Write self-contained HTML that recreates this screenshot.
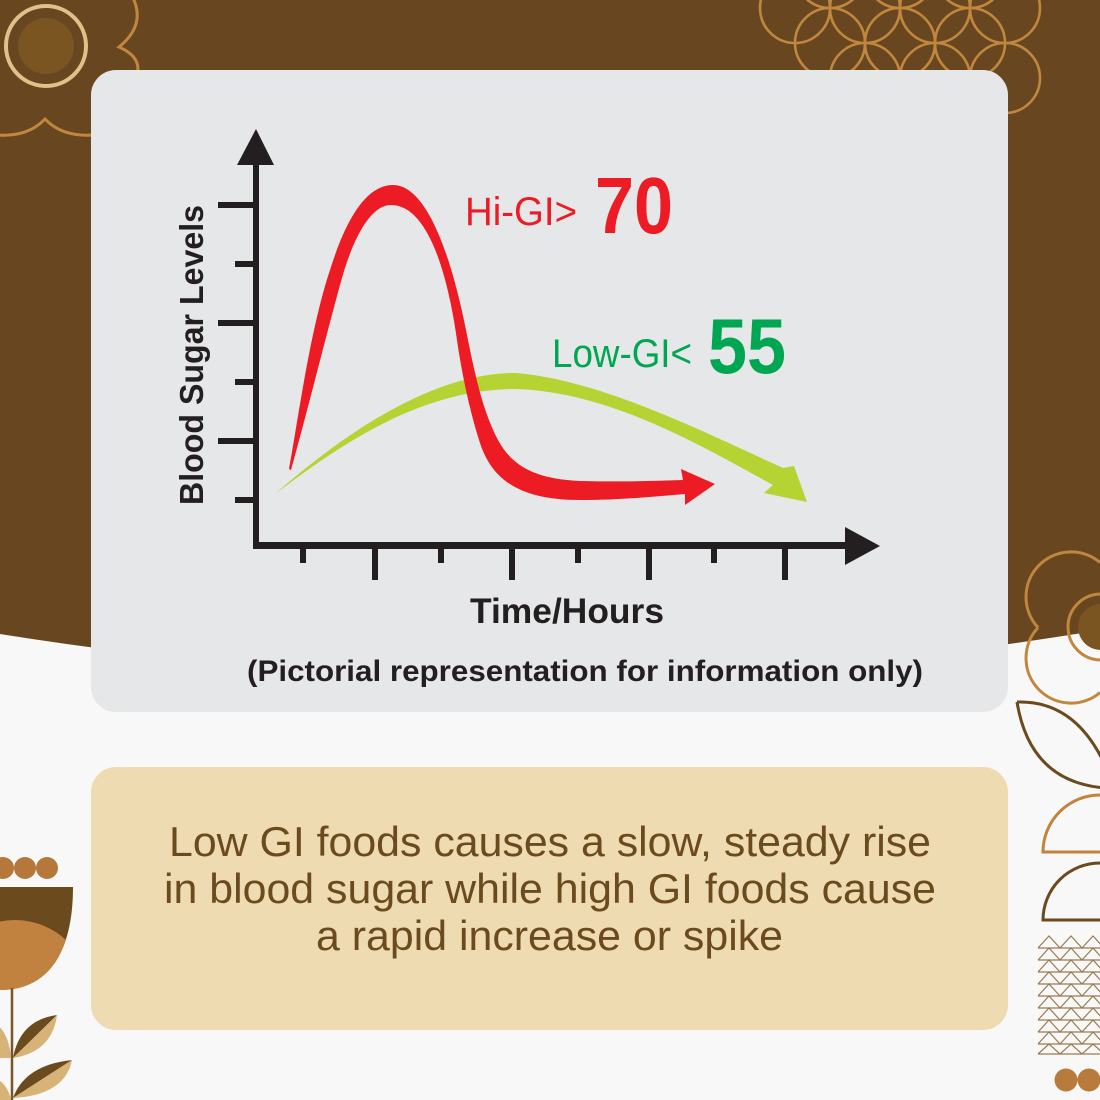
<!DOCTYPE html>
<html>
<head>
<meta charset="utf-8">
<style>
  html,body{margin:0;padding:0;background:#f8f8f8;}
  body{width:1100px;height:1100px;overflow:hidden;}
  svg{display:block;}
</style>
</head>
<body>
<svg width="1100" height="1100" viewBox="0 0 1100 1100" xmlns="http://www.w3.org/2000/svg">
  <defs>
    <clipPath id="bowl">
      <path d="M0,887 H73 C73,950 50,990 0,990 Z"/>
    </clipPath>
  </defs>

  <!-- background -->
  <rect width="1100" height="1100" fill="#f8f8f8"/>
  <path d="M0,0 H1100 V630 Q550,722 0,634 Z" fill="#684720"/>

  <!-- top-left decoration -->
  <circle cx="46" cy="46" r="40" fill="none" stroke="#e2c08a" stroke-width="4"/>
  <circle cx="46" cy="46" r="28" fill="#7a5521"/>
  <path d="M133,-2 Q146,25 119,47 Q142,57 137,75" stroke="#c1873f" stroke-width="3" fill="none"/>
  <path d="M-2,135 Q28,137 45,119 Q62,137 93,135" stroke="#c1873f" stroke-width="3" fill="none"/>

  <!-- top-right lattice -->
  <g fill="none" stroke="#c1873f" stroke-width="2.6">
    <circle cx="830" cy="-27" r="35"/>
    <circle cx="900" cy="-27" r="35"/>
    <circle cx="970" cy="-27" r="35"/>
    <circle cx="830" cy="43" r="35"/>
    <circle cx="900" cy="43" r="35"/>
    <circle cx="970" cy="43" r="35"/>
    <circle cx="795" cy="8" r="35"/>
    <circle cx="865" cy="8" r="35"/>
    <circle cx="935" cy="8" r="35"/>
    <circle cx="1005" cy="8" r="35"/>
    <circle cx="865" cy="78" r="35"/>
    <circle cx="935" cy="78" r="35"/>
    <circle cx="1005" cy="78" r="35"/>
  </g>

  <!-- right side decorations -->
  <circle cx="1101" cy="627" r="23" fill="#7a5521"/>
  <circle cx="1101" cy="627" r="33" fill="none" stroke="#c1873f" stroke-width="3"/>
  <path d="M1038,627.5 A45,45 0 0 1 1100,562.5" fill="none" stroke="#c1873f" stroke-width="3"/>
  <path d="M1038,627.5 A45,45 0 0 0 1100,692.5" fill="none" stroke="#c1873f" stroke-width="3"/>
  <path d="M1017,702 Q1075,700 1105,765 M1017,702 Q1030,782 1105,788" fill="none" stroke="#6b4a1e" stroke-width="3"/>
  <path d="M1100,795 A57,57 0 0 0 1043,852 H1100" fill="none" stroke="#c1843e" stroke-width="3"/>
  <path d="M1100,863 A57,57 0 0 0 1043,920 H1100" fill="none" stroke="#6b4a1e" stroke-width="3"/>
  <g fill="none" stroke="#9a7a50" stroke-width="1.2">
    <path d="M1038,948 L1049,936 L1060,948 L1071,936 L1082,948 L1093,936 L1104,948 M1038,948 H1100"/>
    <path d="M1038,960 L1049,948 L1060,960 L1071,948 L1082,960 L1093,948 L1104,960 M1038,960 H1100"/>
    <path d="M1038,972 L1049,960 L1060,972 L1071,960 L1082,972 L1093,960 L1104,972 M1038,972 H1100"/>
    <path d="M1038,984 L1049,972 L1060,984 L1071,972 L1082,984 L1093,972 L1104,984 M1038,984 H1100"/>
    <path d="M1038,996 L1049,984 L1060,996 L1071,984 L1082,996 L1093,984 L1104,996 M1038,996 H1100"/>
    <path d="M1038,1008 L1049,996 L1060,1008 L1071,996 L1082,1008 L1093,996 L1104,1008 M1038,1008 H1100"/>
    <path d="M1038,1020 L1049,1008 L1060,1020 L1071,1008 L1082,1020 L1093,1008 L1104,1020 M1038,1020 H1100"/>
    <path d="M1038,1032 L1049,1020 L1060,1032 L1071,1020 L1082,1032 L1093,1020 L1104,1032 M1038,1032 H1100"/>
    <path d="M1038,1044 L1049,1032 L1060,1044 L1071,1032 L1082,1044 L1093,1032 L1104,1044 M1038,1044 H1100"/>
    <path d="M1038,1054 L1049,1044 L1060,1054 L1071,1044 L1082,1054 L1093,1044 L1104,1054 M1038,1054 H1100"/>
  </g>
  <circle cx="1066" cy="1080" r="11.5" fill="#b97b3b"/>
  <circle cx="1089" cy="1080" r="11.5" fill="#b97b3b"/>

  <!-- bottom-left decoration -->
  <circle cx="3" cy="868" r="11" fill="#b5773a"/>
  <circle cx="25" cy="868" r="11" fill="#b5773a"/>
  <circle cx="47" cy="868" r="11" fill="#b5773a"/>
  <path d="M0,887 H73 C73,950 50,990 0,990 Z" fill="#6b4a1e"/>
  <circle cx="15" cy="995" r="75" fill="#c2823f" clip-path="url(#bowl)"/>
  <line x1="12" y1="988" x2="12" y2="1100" stroke="#7a5528" stroke-width="2.5"/>
  <path d="M13,1058 Q20,1020 57,1015 L13,1058 Z" fill="#6b4a1e"/>
  <path d="M13,1058 L57,1015 Q52,1052 13,1058 Z" fill="#d7b377"/>
  <path d="M11,1058 Q9,1032 -6,1022 L-6,1058 Z" fill="#d7b377"/>
  <path d="M13,1098 Q25,1065 72,1060 L13,1098 Z" fill="#6b4a1e"/>
  <path d="M13,1098 L72,1060 Q65,1095 13,1098 Z" fill="#d7b377"/>
  <path d="M11,1100 Q8,1085 -4,1078 L-4,1100 Z" fill="#d7b377"/>

  <!-- cards -->
  <rect x="91" y="70" width="917" height="642" rx="25" ry="25" fill="#e6e7e8"/>
  <rect x="91" y="767" width="917" height="263" rx="25" ry="25" fill="#eedbb1"/>

  <!-- axes -->
  <g fill="#231f20">
    <rect x="253" y="160" width="6" height="389"/>
    <polygon points="256,129 237,165 274,165"/>
    <rect x="253" y="542" width="595" height="7"/>
    <polygon points="880,546 845,527 845,565"/>
    <!-- y ticks -->
    <rect x="218" y="202" width="36" height="6"/>
    <rect x="235" y="261" width="19" height="6"/>
    <rect x="218" y="320" width="36" height="6"/>
    <rect x="235" y="379" width="19" height="6"/>
    <rect x="218" y="438" width="36" height="6"/>
    <rect x="235" y="497" width="19" height="6"/>
    <!-- x ticks -->
    <rect x="300" y="548" width="6" height="15"/>
    <rect x="372" y="548" width="6" height="32"/>
    <rect x="438" y="548" width="6" height="15"/>
    <rect x="509" y="548" width="6" height="32"/>
    <rect x="575" y="548" width="6" height="15"/>
    <rect x="646" y="548" width="6" height="32"/>
    <rect x="711" y="548" width="6" height="15"/>
    <rect x="782" y="548" width="6" height="32"/>
  </g>

  <!-- green (low GI) curve -->
  <path d="M275,494 C320,455 420,372 516,373 C600,380 700,430 783,468 L794,466 L807,502 L764,493 L773,485 C700,445 610,392 516,389 C420,389 340,445 275,494 Z" fill="#b6d334"/>

  <!-- red (high GI) curve -->
  <path d="M289,469 C298,420 310,330 330,270 C345,222 365,185 393,185 C428,185 452,260 466,330 C474,370 482,410 498,440 C512,466 535,479 580,481 C620,482 650,481 683,480 L681,469 L715,484 L685,505 L685,494 C650,497 620,500 580,500 C520,500 492,480 480,443 C470,412 462,375 457,340 C450,290 432,205 391,205 C370,205 352,240 340,285 C325,340 305,420 291,470 Z" fill="#ed1c24"/>

  <!-- chart labels -->
  <text x="465" y="225" font-family="Liberation Sans, sans-serif" font-size="40" fill="#ed1c24" textLength="112" lengthAdjust="spacingAndGlyphs">Hi-GI&gt;</text>
  <text x="595" y="233" font-family="Liberation Sans, sans-serif" font-size="80" font-weight="bold" fill="#ed1c24" textLength="78" lengthAdjust="spacingAndGlyphs">70</text>
  <text x="552" y="367" font-family="Liberation Sans, sans-serif" font-size="40" fill="#00a651" textLength="140" lengthAdjust="spacingAndGlyphs">Low-GI&lt;</text>
  <text x="708" y="373" font-family="Liberation Sans, sans-serif" font-size="78" font-weight="bold" fill="#00a651" textLength="78" lengthAdjust="spacingAndGlyphs">55</text>

  <text transform="translate(203,505) rotate(-90)" x="0" y="0" font-family="Liberation Sans, sans-serif" font-size="33" font-weight="bold" fill="#231f20" textLength="300" lengthAdjust="spacingAndGlyphs">Blood Sugar Levels</text>
  <text x="470" y="623" font-family="Liberation Sans, sans-serif" font-size="35" font-weight="bold" fill="#231f20" textLength="194" lengthAdjust="spacingAndGlyphs">Time/Hours</text>
  <text x="247" y="681" font-family="Liberation Sans, sans-serif" font-size="30" font-weight="bold" fill="#231f20" textLength="676" lengthAdjust="spacingAndGlyphs">(Pictorial representation for information only)</text>

  <!-- bottom text -->
  <g font-family="Liberation Sans, sans-serif" font-size="42" fill="#6b4a1e">
    <text x="169" y="856" textLength="762" lengthAdjust="spacingAndGlyphs">Low GI foods causes a slow, steady rise</text>
    <text x="164" y="903" textLength="772" lengthAdjust="spacingAndGlyphs">in blood sugar while high GI foods cause</text>
    <text x="316" y="950" textLength="467" lengthAdjust="spacingAndGlyphs">a rapid increase or spike</text>
  </g>
</svg>
</body>
</html>
